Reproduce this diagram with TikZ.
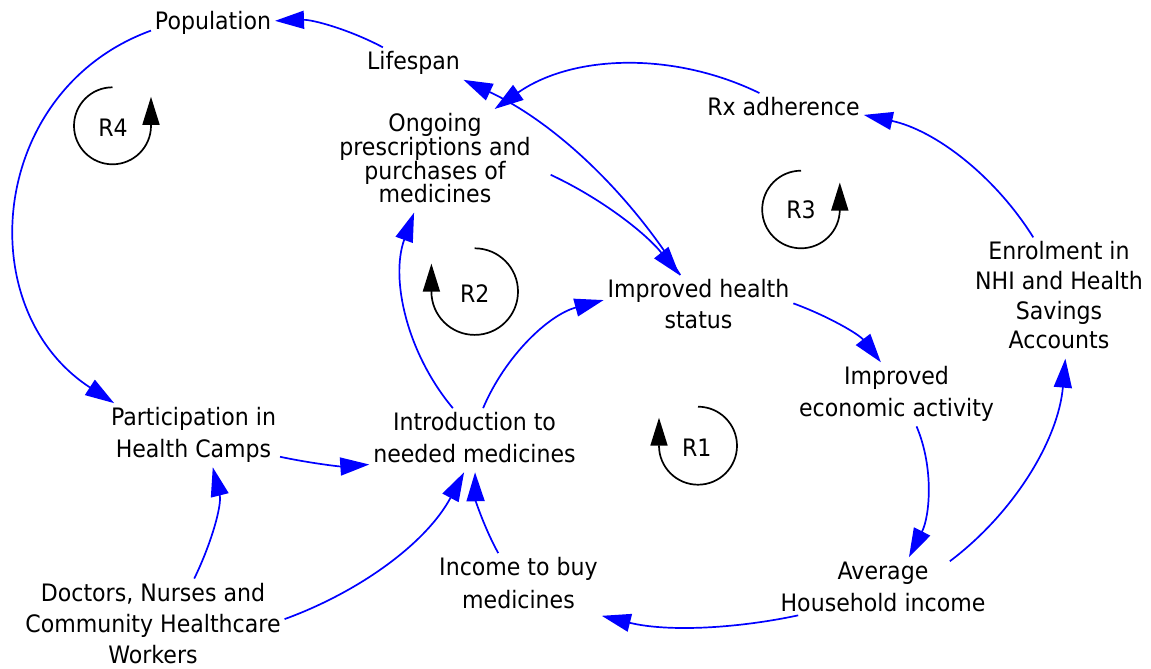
\documentclass[tikz,border=0pt]{standalone}
\usepackage{fontspec}
\setmainfont{DejaVu Sans}[FakeStretch=0.92]
\usetikzlibrary{arrows.meta}
\definecolor{linkblue}{RGB}{0,0,255}
% strut giving every first/last text line the same height and depth
\newcommand\vs{\rule[-5.9pt]{0pt}{24.5pt}}
% text size with a fixed line pitch
\newcommand\varfont[1]{\fontsize{24pt}{#1pt}\selectfont\lineskiplimit=-50pt\relax}

\begin{document}
\begin{tikzpicture}[x=1pt,y=1pt,
  var/.style={align=center, inner sep=2pt, outer sep=2pt, font={\varfont{31.6}}},
  link/.style={draw=linkblue, line width=1.7pt,
    -{Triangle[length=29pt,width=18pt]}},
  loopmark/.style={draw=black, line width=1.7pt,
    -{Triangle[length=28pt,width=17pt]}},
  looplabel/.style={inner sep=0pt, font={\varfont{28}}}]

\fill[white] (0,0) rectangle (1151,-669);
\useasboundingbox (0,0) rectangle (1151,-669);

% variables
\node[var] (pop) at (213,-23) {\vs Population};
\node[var] (life) at (413.5,-63.6) {\vs Lifespan};
\node[var, font={\varfont{23.7}}] (ong) at (435,-160.8)
  {\vs Ongoing\\prescriptions and\\purchases of\\medicines\vs};
\node[var] (rx) at (783.5,-109.3) {\vs Rx adherence};
\node[var, font={\varfont{30.7}}] (ihs) at (698.5,-306.7)
  {\vs Improved health\\status\vs};
\node[var, font={\varfont{29.6}}] (enr) at (1059,-298)
  {\vs Enrolment in\\NHI and Health\\Savings\\Accounts\vs};
\node[var] (iea) at (896.5,-394.3) {\vs Improved\\economic activity\vs};
\node[var] (part) at (193.5,-435.2) {\vs Participation in\\Health Camps\vs};
\node[var] (intro) at (474.5,-440.2) {\vs Introduction to\\needed medicines\vs};
\node[var, font={\varfont{32.3}}] (inc) at (518.5,-585.5)
  {\vs Income to buy\\medicines\vs};
\node[var] (avg) at (883,-589.3) {\vs Average\\Household income\vs};
\node[var, font={\varfont{31.2}}] (doc) at (153,-626)
  {\vs Doctors, Nurses and\\Community Healthcare\\Workers\vs};

% causal links
\draw[link] (life.152) to[out=152, in=2, looseness=0.87] (pop.2);
\draw[link] (pop.187) to[out=200, in=147, looseness=1.18] (part.158);
\draw[link] (ihs.120) to[out=122, in=-25, looseness=0.87] (life.-18);
\draw[link] ([xshift=16pt]ong.-8) to[out=-25, in=129, looseness=0.86] (ihs.121);
\draw[link] (rx.146) to[out=154, in=35, looseness=0.92] (ong.41);
\draw[link] (enr.113) to[out=122, in=-12, looseness=0.89] (rx.-4);
\draw[link] (intro.124) to[out=130, in=-110, looseness=0.91] (ong.-112);
\draw[link] (intro.75) to[out=67, in=195, looseness=0.9] (ihs.176);
\draw[link] (part.-14) to[out=-12, in=184, looseness=0.86] (intro.193);
\draw[link] (doc.49) to[out=64, in=-76, looseness=0.88] (part.-59);
\draw[link] (doc.3) to[out=20, in=-118, looseness=0.88] (intro.-108);
\draw[link] (inc.122) to[out=119, in=-89, looseness=0.86] (intro.-89);
\draw[link] ([shift={(20pt,6pt)}]avg.197) to[out=192, in=-14, looseness=0.86] (inc.-20);
\draw[link] (iea.-58) to[out=-67, in=63, looseness=0.89] (avg.51);
\draw[link] ([shift={(9pt,-4pt)}]avg.29) to[out=37, in=-95, looseness=0.89] (enr.-84);
\draw[link] (ihs.2) to[out=-20, in=128, looseness=0.87] (iea.116);

% loop identifiers
\node[looplabel] (r4) at (113,-128) {R4};
\draw[loopmark] (112.5,-87.3) arc[start angle=90, end angle=360, radius=38.5] -- ++(0,29);

\node[looplabel] (r3) at (801,-210) {R3};
\draw[loopmark] (801,-170.7) arc[start angle=90, end angle=360, radius=38.8] -- ++(0,27);

\node[looplabel] (r2) at (474.7,-293.3) {R2};
\draw[loopmark] (474.7,-248.3) arc[start angle=90, end angle=-180, radius=43.3] -- ++(0,28);

\node[looplabel] (r1) at (696.7,-447.3) {R1};
\draw[loopmark] (698,-406.7) arc[start angle=90, end angle=-180, radius=39] -- ++(0,28);
\end{tikzpicture}
\end{document}
